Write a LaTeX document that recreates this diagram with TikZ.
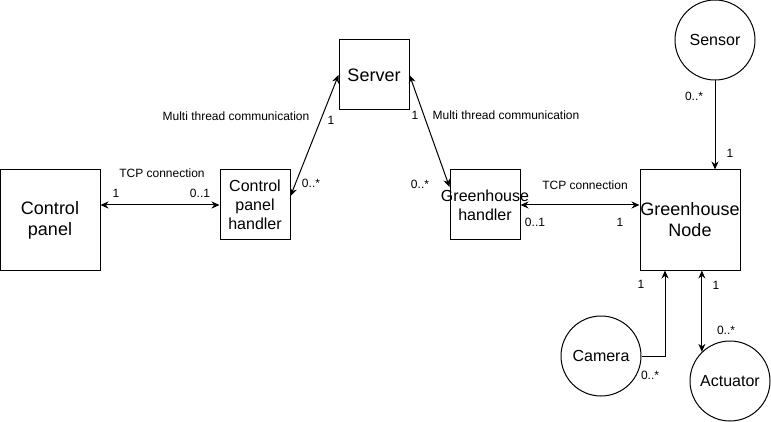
\documentclass[tikz,border=0pt]{standalone}
\usepackage{fontspec}
\setmainfont{Liberation Sans}
\usetikzlibrary{arrows.meta,calc}
\begin{document}
\begin{tikzpicture}[x=1pt,y=-1pt,
  box/.style={draw,line width=1pt,inner sep=0pt,align=center},
  bigbox/.style={box,minimum width=100pt,minimum height=100pt,font=\fontsize{18}{21}\selectfont},
  smallbox/.style={box,minimum width=70pt,minimum height=70pt,font=\fontsize{16}{19}\selectfont},
  round/.style={draw,circle,line width=1pt,inner sep=0pt,minimum size=80pt,font=\fontsize{16}{19}\selectfont},
  lbl/.style={inner sep=0pt,font=\fontsize{12}{14}\selectfont},
  tip/.style={Stealth[length=8pt,width=7pt]},
  conn/.style={line width=1pt,arrows={-Stealth[length=8pt,width=7pt]}},
  bconn/.style={line width=1pt,arrows={Stealth[length=8pt,width=7pt]-Stealth[length=8pt,width=7pt]}}]
\useasboundingbox (0,0) rectangle (771,422);
\fill[white] (0,0) rectangle (771,422);

\node[bigbox] (cp) at (50,220) {Control\\panel};
\node[smallbox] (cph) at (255,205) {Control\\panel\\handler};
\node[smallbox,font=\fontsize{18}{21}\selectfont] (srv) at (374,75) {Server};
\node[smallbox,label={[inner sep=0pt,align=center,font=\fontsize{16}{19}\selectfont]center:Greenhouse\\handler}] (gh) at (485,205) {};
\node[bigbox] (gn) at (690,220) {Greenhouse\\Node};
\node[round] (sen) at (715,40) {Sensor};
\node[round] (cam) at (601,356) {Camera};
\node[round] (act) at (730,381) {Actuator};

\draw[bconn] (cp.east |- cph.west) -- (cph.west);
\draw[bconn] ([yshift=9pt]cph.east) -- (srv.west);
\draw[bconn] (srv.east) -- ([yshift=18pt]gh.west);
\draw[bconn] (gh.east) -- (gh.east -| gn.west);
\draw[conn] (sen.south) -- (sen.south |- gn.north);
\coordinate (camin) at ($(gn.south)+(-25,0)$);
\draw[conn] (cam.east) -| (camin);
\draw[bconn] (act.134 |- gn.south) -- (act.134);

\node[lbl] (l1) at (162,173) {TCP connection};
\node[lbl] (l2) at (116,193) {1};
\node[lbl] (l3) at (200,193) {0..1};
\node[lbl] (l4) at (236,116) {Multi thread communication};
\node[lbl] (l5) at (331,120) {1};
\node[lbl] (l6) at (311,183) {0..*};
\node[lbl] (l7) at (415,115) {1};
\node[lbl] (l8) at (506,115) {Multi thread communication};
\node[lbl] (l9) at (420,184) {0..*};
\node[lbl] (l10) at (585,185) {TCP connection};
\node[lbl] (l11) at (535,222) {0..1};
\node[lbl] (l12) at (620,222) {1};
\node[lbl] (l13) at (694,96) {0..*};
\node[lbl] (l14) at (730,153) {1};
\node[lbl] (l15) at (641,284) {1};
\node[lbl] (l16) at (716,285) {1};
\node[lbl] (l17) at (726,330) {0..*};
\node[lbl] (l18) at (650,375) {0..*};
\end{tikzpicture}
\end{document}
